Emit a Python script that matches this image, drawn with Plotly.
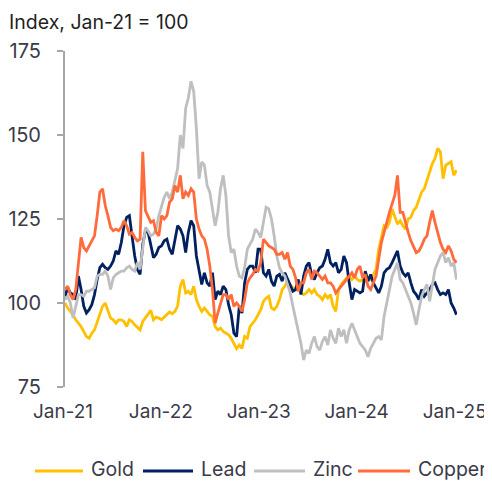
import pandas as pd
import plotly.graph_objects as go

# Index values (Jan-21 = 100), one reading every 10 days from 1 Jan 2021
dates = pd.date_range("2021-01-01", periods=147, freq="10D")

gold = [
    100, 98.5, 97.5, 96.5, 95, 94, 93, 91.5, 90, 89.5,
    91, 92, 94.5, 97, 99, 100, 98, 95.5, 95, 94,
    95, 95, 94.5, 93, 95, 94.5, 93.5, 92.8, 92, 94.5,
    95.5, 96.5, 97.8, 95, 95.8, 95.5, 95, 95.8, 96.5, 97.3,
    96.8, 97.5, 99.1, 105, 107, 103, 103.5, 102.5, 105, 101,
    99, 97.5, 98.5, 97.5, 96.5, 96, 93, 92, 92.5, 91.5,
    91, 90.5, 89.5, 88, 86.4, 87.5, 86.5, 90, 89.5, 93,
    94, 95, 96.5, 98, 100.5, 101.5, 102, 98.5, 98, 99,
    101, 104, 105, 106.5, 105.5, 104.5, 104, 106, 103, 102.5,
    103, 104, 103, 104, 102.5, 102, 101, 102.5, 101.5, 102.5,
    99, 97.5, 104, 105.5, 106.5, 107.5, 108, 107, 108, 107,
    106.5, 107, 106.5, 107.5, 107, 108.5, 110, 116, 120, 123,
    122.5, 124, 128, 126, 123.5, 124.5, 123, 122, 125, 125.5,
    127.5, 128.5, 130.5, 133, 134, 136.5, 139, 141.5, 143, 146,
    145, 137, 141, 141.5, 142, 138, 139.5,
]

lead = [
    102, 104.5, 103, 102.5, 101, 108, 104, 99, 97, 98,
    99.5, 102.5, 107, 110.5, 111.5, 110.5, 110, 111, 112.5, 115.5,
    114.5, 118, 123, 125.5, 126, 119.5, 114, 110, 108.5, 117.5,
    121.5, 121, 117, 113.5, 114.5, 116.5, 117, 118.5, 119, 116,
    114.5, 119, 123, 122, 120, 115, 121, 124.5, 123, 114,
    110, 105.5, 109, 106, 105, 109, 101, 103.5, 102.5, 105,
    104, 99.5, 96.5, 91, 90, 99, 97, 106, 110, 111,
    111, 109, 116, 116, 109, 108, 110, 106.5, 105, 108,
    108.5, 106.5, 109, 107, 105, 103.5, 104, 107, 102.5, 108,
    111, 112, 108.5, 107, 109, 110.5, 111, 113, 116, 112,
    111, 112, 109, 110, 114, 112, 106, 101, 104, 103.5,
    103, 103.5, 109.5, 106.5, 108.5, 106, 104.5, 103, 105, 109,
    110, 110.5, 112, 114, 115.5, 111, 109, 108, 109, 106,
    103.5, 102.5, 101, 104, 102, 103, 104, 105.5, 106, 104,
    102.5, 103, 102.5, 104, 100, 98.5, 96.5,
]

zinc = [
    101, 102, 100, 95.5, 99, 102.5, 102.5, 102, 103.5, 103.5,
    104, 104.5, 108, 108.5, 108.5, 109.5, 108, 104, 107.5, 108.5,
    109, 109.5, 109.5, 110.5, 111, 110, 109.5, 112, 110, 117,
    122.5, 121.5, 120, 120.5, 122, 126, 129, 131.5, 133, 131,
    133, 137, 140, 150, 146, 158, 161, 166, 163, 152,
    137, 142, 141, 135, 133, 128, 123, 127, 134, 138,
    132, 120, 115, 116, 111, 108, 107.5, 110.5, 116, 117.5,
    119, 122, 121, 119.5, 124, 128.5, 128, 125, 120, 114,
    110.5, 109, 108, 105.5, 103, 99, 95.5, 92, 88, 83,
    86, 85, 88, 90, 87, 86, 88.5, 90, 87.5, 92,
    89.5, 88, 92.5, 90, 92, 88, 92, 94, 92, 90,
    88, 87, 86, 84, 86.5, 88, 89.5, 90, 89, 96,
    100, 104, 108, 110, 112, 107, 106, 104, 102, 100,
    97, 93.5, 98, 102, 104, 105.5, 100.5, 105, 110, 112,
    114, 115, 112, 113.5, 111, 112, 107,
]

copper = [
    104, 105, 102.5, 101, 104, 112, 119.5, 116.5, 115.5, 117,
    118.5, 120, 126, 133, 134, 129, 126, 122.5, 121.5, 122,
    121.5, 122.5, 124.5, 123, 120.5, 121, 119.5, 118.5, 119, 145,
    127.5, 125.5, 124, 124.5, 121, 120, 126, 125, 126, 130,
    131, 135, 133, 138, 131, 133, 132, 134, 133, 125,
    122, 120, 119, 116, 111, 104, 94, 97, 100, 102.5,
    102.5, 101, 102.5, 99, 100, 99, 97.5, 101, 106, 107.5,
    108.5, 110, 109.5, 112, 119, 118, 117, 116.5, 116, 114.5,
    114.5, 115, 113, 115, 111, 110, 107.5, 103.5, 106, 106,
    109, 110, 107, 109.5, 109, 108, 107, 108, 106, 106,
    105, 103, 104, 105, 106, 107, 108, 109, 107.5, 110,
    111, 107.5, 108.5, 105, 104, 106, 108, 113, 118, 121,
    124.5, 127, 129.5, 132, 138, 127, 127, 123.5, 121, 118.5,
    116.5, 115, 115.5, 117, 119, 120, 124, 127.5, 124, 121,
    118, 116, 115, 117, 115.5, 113, 112,
]

series_names = ["Gold", "Lead", "Zinc", "Copper"]
series_colors = ["#FFC000", "#002060", "#BFBFBF", "#FF6B3A"]

x_tick_vals = ["2021-01-01", "2022-01-01", "2023-01-01", "2024-01-01", "2025-01-01"]
x_tick_text = ["Jan-21", "Jan-22", "Jan-23", "Jan-24", "Jan-25"]
y_tick_vals = [75, 100, 125, 150, 175]

# the page body has an 8px margin, so the figure is made 8px smaller
W, H = 484, 473
PLOT_L, PLOT_T, PLOT_W, PLOT_H = 57, 43, 392, 336

fig = go.Figure()
for name, vals, color in zip(series_names, [gold, lead, zinc, copper], series_colors):
    fig.add_trace(go.Scatter(
        x=dates,
        y=vals,
        mode="lines",
        name=name,
        line=dict(color=color, width=2.8),
        showlegend=False,
    ))

# hand-built legend in one row below the axis (pixel positions inside the figure)
legend_line_x = [(27, 75), (135, 185), (246, 297), (350, 402)]
legend_y = 463
for (x0, x1), name, color in zip(legend_line_x, series_names, series_colors):
    fig.add_shape(
        type="line",
        xref="paper", yref="paper",
        x0=(x0 - PLOT_L) / PLOT_W, x1=(x1 - PLOT_L) / PLOT_W,
        y0=(PLOT_T + PLOT_H - legend_y) / PLOT_H,
        y1=(PLOT_T + PLOT_H - legend_y) / PLOT_H,
        line=dict(color=color, width=3),
    )
    fig.add_annotation(
        text=name,
        xref="paper", yref="paper",
        x=(x1 + 6 - PLOT_L) / PLOT_W,
        y=(PLOT_T + PLOT_H - legend_y + 1.5) / PLOT_H,
        xanchor="left", yanchor="middle",
        showarrow=False,
        font=dict(size=19.5, color="#3a3a48"),
    )

fig.update_xaxes(
    range=["2021-01-01", "2025-01-02"],
    tickvals=x_tick_vals,
    ticktext=x_tick_text,
    showline=False,
    showgrid=False,
    zeroline=False,
    ticks="",
    ticklabelstandoff=11,
    ticklabeloverflow="allow",
    ticklabelshift=-2,
    tickfont=dict(size=19),
)
fig.update_yaxes(
    range=[75, 175],
    tickvals=y_tick_vals,
    showline=True,
    linecolor="#A6A6A6",
    linewidth=2,
    ticks="outside",
    ticklen=6,
    tickwidth=2,
    tickcolor="#A6A6A6",
    showgrid=False,
    zeroline=False,
    ticklabelstandoff=12,
    tickfont=dict(size=20),
)

fig.update_layout(
    width=W,
    height=H,
    margin=dict(l=PLOT_L, r=W - PLOT_L - PLOT_W, t=PLOT_T, b=H - PLOT_T - PLOT_H, autoexpand=False),
    paper_bgcolor="white",
    plot_bgcolor="white",
    font=dict(family="Inter", size=20, color="#3a3a48"),
    showlegend=False,
    title=dict(
        text="Index, Jan-21 = 100",
        x=1 / W,
        xanchor="left",
        xref="container",
        y=1 - 14 / H,
        yanchor="middle",
        yref="container",
        font=dict(size=19.5, color="#1f1f1f"),
    ),
)

fig.write_html("out.html")
